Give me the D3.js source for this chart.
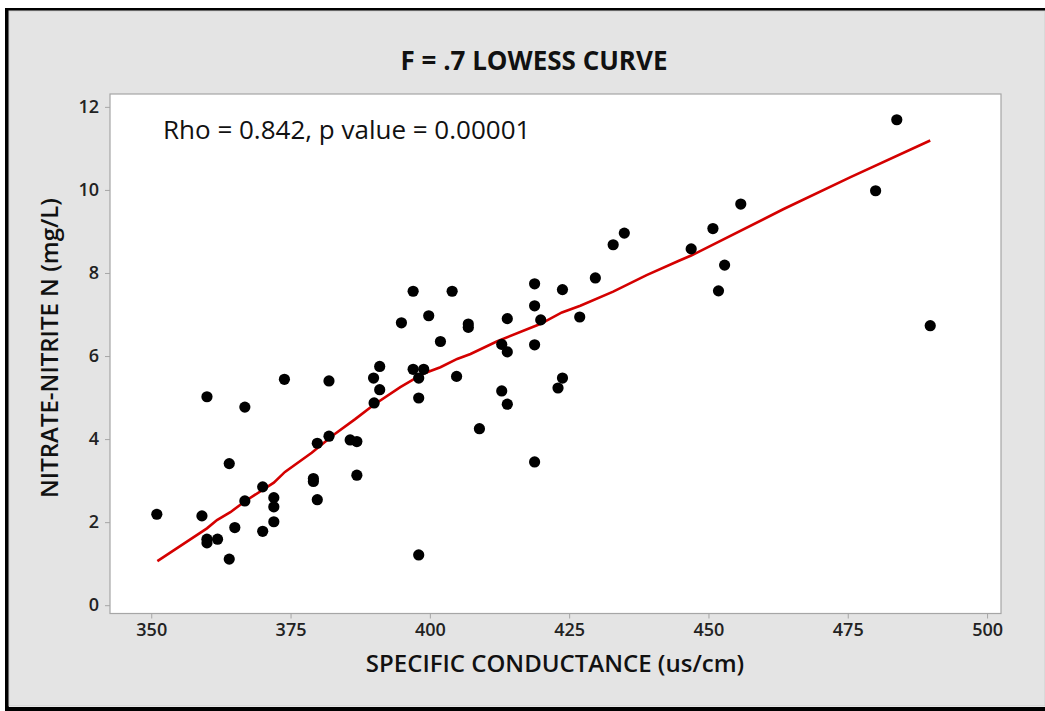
<!DOCTYPE html>
<html>
<head>
<meta charset="utf-8">
<script src="https://cdn.jsdelivr.net/npm/d3@7"></script>
<style>
  html, body { margin: 0; padding: 0; background: #fff; }
  svg { display: block; }
  .tick text { font-family: "Open Sans", sans-serif; font-weight: 600; font-size: 18px; fill: #222; }
</style>
</head>
<body>
<div id="chart"></div>
<script>
// scatter data
const conductance = [351, 359.1, 360, 360, 360, 361.9, 364, 364, 365, 366.8, 366.8, 370, 370, 372, 372, 372,
  373.9, 379.1, 379.1, 379.8, 379.8, 381.9, 381.9, 385.7, 386.9, 386.9, 389.9, 391, 391, 390, 394.9, 397, 404,
  399.8, 406.9, 406.9, 401.9, 397, 398.9, 398, 404.8, 398, 408.9, 398, 412.9, 413.9, 413.9, 412.9, 413.9,
  418.8, 418.8, 418.8, 418.8, 419.9, 423.8, 423.8, 423, 426.9, 429.7, 432.9, 434.9, 446.9, 450.8, 455.8,
  452.9, 451.8, 480, 483.8, 489.8];
const nitrate = [2.19, 2.15, 5.02, 1.59, 1.5, 1.59, 3.41, 1.11, 1.87, 4.77, 2.51, 2.85, 1.78, 2.59, 2.37, 2.01,
  5.44, 3.05, 2.98, 3.9, 2.54, 5.4, 4.07, 3.98, 3.94, 3.13, 5.47, 5.75, 5.19, 4.87, 6.8, 7.56, 7.56,
  6.97, 6.77, 6.69, 6.35, 5.68, 5.68, 5.47, 5.51, 4.99, 4.25, 1.21, 6.28, 6.1, 6.9, 5.16, 4.84,
  7.74, 7.21, 6.27, 3.45, 6.87, 7.6, 5.47, 5.23, 6.94, 7.88, 8.68, 8.96, 8.58, 9.07, 9.66,
  8.19, 7.57, 9.98, 11.69, 6.73];

// lowess curve
const curveX = [351.1, 360, 361.8, 364.2, 366.9, 372, 374, 378.8, 382.7, 386.6, 389.9, 394.7, 398.9, 401.9,
  404.9, 407.3, 412, 419.8, 423.7, 427, 432.9, 438.9, 444.6, 446.9, 463.5, 475.5, 489.8];
const curveY = [1.06, 1.85, 2.05, 2.24, 2.51, 2.95, 3.21, 3.67, 4.1, 4.48, 4.82, 5.25, 5.58, 5.73,
  5.93, 6.05, 6.35, 6.77, 7.05, 7.21, 7.55, 7.95, 8.29, 8.42, 9.54, 10.31, 11.19];

const xTicks = [350, 375, 400, 425, 450, 475, 500];
const yTicks = [0, 2, 4, 6, 8, 10, 12];

const W = 1045, H = 711;
const plot = { left: 110, right: 1001, top: 94, bottom: 613.5 };

const svg = d3.select("#chart").append("svg")
  .attr("width", W).attr("height", H);

// outer frame
svg.append("rect").attr("x", 5).attr("y", 8).attr("width", W).attr("height", 703).attr("fill", "#000");
svg.append("rect").attr("x", 9).attr("y", 11).attr("width", W - 9).attr("height", 696).attr("fill", "#fff");
svg.append("rect").attr("x", 9).attr("y", 11).attr("width", W - 9).attr("height", 695)
  .attr("fill", "#e4e4e4").attr("stroke", "#cfcfcf").attr("stroke-width", 1);

const x = d3.scaleLinear().domain([342.6, 502.5]).range([plot.left, plot.right]);
const y = d3.scaleLinear().domain([-0.2, 12.31]).range([plot.bottom, plot.top]);

svg.append("rect")
  .attr("x", plot.left).attr("y", plot.top)
  .attr("width", plot.right - plot.left).attr("height", plot.bottom - plot.top)
  .attr("fill", "#fff").attr("stroke", "#a6a6a6").attr("stroke-width", 1.2);

const xg = svg.append("g")
  .attr("transform", `translate(0,${plot.bottom})`)
  .call(d3.axisBottom(x).tickValues(xTicks).tickSize(5).tickPadding(5));
const yg = svg.append("g")
  .attr("transform", `translate(${plot.left},0)`)
  .call(d3.axisLeft(y).tickValues(yTicks).tickSize(5).tickPadding(6));
[xg, yg].forEach(g => {
  g.select(".domain").remove();
  g.selectAll(".tick line").attr("stroke", "#a6a6a6");
});

// lowess line
const pts = curveX.map((v, i) => [v, curveY[i]]);
svg.append("path")
  .datum(pts)
  .attr("fill", "none")
  .attr("stroke", "#d40000")
  .attr("stroke-width", 2.6)
  .attr("d", d3.line().x(d => x(d[0])).y(d => y(d[1])));

// dots
svg.append("g").selectAll("circle")
  .data(conductance.map((v, i) => [v, nitrate[i]]))
  .join("circle")
  .attr("cx", d => x(d[0]))
  .attr("cy", d => y(d[1]))
  .attr("r", 5.6)
  .attr("fill", "#000");

const font = '"Open Sans", sans-serif';

svg.append("text")
  .attr("x", 534).attr("y", 70)
  .attr("text-anchor", "middle")
  .style("font-family", font).style("font-weight", 700).style("font-size", "26px")
  .attr("fill", "#111")
  .text("F = .7 LOWESS CURVE");

svg.append("text")
  .attr("x", 163).attr("y", 139)
  .style("font-family", font).style("font-size", "26px")
  .attr("fill", "#111")
  .text("Rho = 0.842, p value = 0.00001");

svg.append("text")
  .attr("x", 555).attr("y", 672)
  .attr("text-anchor", "middle")
  .style("font-family", font).style("font-weight", 600).style("font-size", "24px")
  .attr("fill", "#111")
  .text("SPECIFIC CONDUCTANCE (us/cm)");

svg.append("text")
  .attr("transform", "translate(58,348) rotate(-90)")
  .attr("text-anchor", "middle")
  .style("font-family", font).style("font-weight", 600).style("font-size", "24px")
  .attr("fill", "#111")
  .text("NITRATE-NITRITE N (mg/L)");
</script>
</body>
</html>
